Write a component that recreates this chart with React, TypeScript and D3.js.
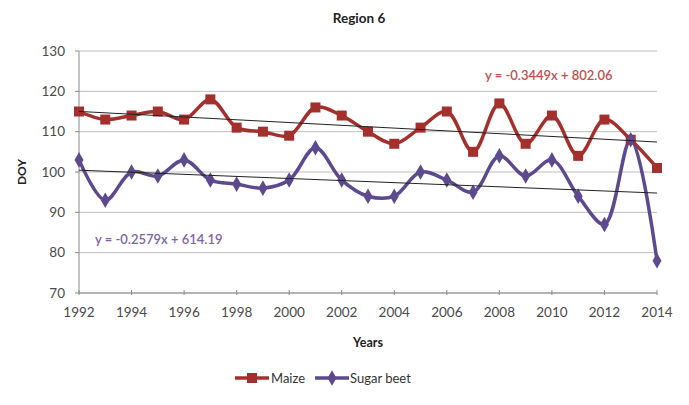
import * as d3 from "d3";

const years = d3.range(1992, 2015);
const maize = [115, 113, 114, 115, 113, 118, 111, 110, 109, 116, 114, 110, 107, 111, 115, 105, 117, 107, 114, 104, 113, 108, 101];
const sugarBeet = [103, 93, 100, 99, 103, 98, 97, 96, 98, 106, 98, 94, 94, 100, 98, 95, 104, 99, 103, 94, 87, 108, 78];
const maizeTrend = [-0.3449, 802.06];
const beetTrend = [-0.2579, 614.19];
const yTicks = [70, 80, 90, 100, 110, 120, 130];
const xTicks = d3.range(1992, 2015, 2);

const W = 689;
const H = 405;
const mLeft = 79;
const mRight = 657;
const mTop = 51;
const mBottom = 293;

const font = "Lato, 'Open Sans', sans-serif";
const maizeColor = "#a3302d";
const beetColor = "#5d4a8e";

export default function App() {
  const x = d3.scaleLinear([1992, 2014], [mLeft, mRight]);
  const y = d3.scaleLinear([70, 130], [mBottom, mTop]);

  const line = d3
    .line<number>()
    .x((_, i) => x(years[i]))
    .y((d) => y(d))
    .curve(d3.curveCatmullRom.alpha(0.5));

  const trend = (c: number[]) =>
    `M${x(1992)},${y(c[0] * 1992 + c[1])}L${x(2014)},${y(c[0] * 2014 + c[1])}`;

  const diamond = d3.symbol(d3.symbolDiamond, 70)() || "";

  return (
    <svg
      width={W}
      height={H}
      style={{ position: "absolute", left: 0, top: 0, background: "#fff" }}
      fontFamily={font}
    >
      <text x={359} y={23} textAnchor="middle" fontSize={13.5} fontWeight="bold" fill="#222">
        Region 6
      </text>

      {/* gridlines */}
      <g stroke="#bdbdbd" strokeWidth={1}>
        {yTicks.map((t) => (
          <line key={t} x1={mLeft} x2={mRight} y1={y(t)} y2={y(t)} />
        ))}
      </g>

      {/* y axis */}
      <line x1={mLeft} x2={mLeft} y1={mTop} y2={mBottom} stroke="#8a8a8a" />
      <g fontSize={13.5} fill="#4a4a4a" textAnchor="end">
        {yTicks.map((t) => (
          <g key={t}>
            <line x1={mLeft - 4} x2={mLeft} y1={y(t)} y2={y(t)} stroke="#8a8a8a" />
            <text x={mLeft - 14} y={y(t) + 4.5}>
              {t}
            </text>
          </g>
        ))}
      </g>
      <text
        transform={`translate(26,${(mTop + mBottom) / 2}) rotate(-90)`}
        textAnchor="middle"
        fontSize={12}
        fontWeight="bold"
        fill="#222"
      >
        DOY
      </text>

      {/* x axis */}
      <line x1={mLeft} x2={mRight} y1={mBottom} y2={mBottom} stroke="#8a8a8a" />
      <g fontSize={13.5} fill="#4a4a4a" textAnchor="middle">
        {xTicks.map((t) => (
          <g key={t}>
            <line x1={x(t)} x2={x(t)} y1={mBottom - 3} y2={mBottom + 2} stroke="#8a8a8a" />
            <text x={x(t)} y={mBottom + 24}>
              {t}
            </text>
          </g>
        ))}
      </g>
      <text x={(mLeft + mRight) / 2} y={347} textAnchor="middle" fontSize={12.5} fontWeight="bold" fill="#222">
        Years
      </text>

      {/* series */}
      <path d={line(maize) || ""} fill="none" stroke={maizeColor} strokeWidth={3.5} />
      <path d={line(sugarBeet) || ""} fill="none" stroke={beetColor} strokeWidth={3.5} />
      <g fill={maizeColor}>
        {maize.map((d, i) => (
          <rect key={i} x={x(years[i]) - 5} y={y(d) - 5} width={10} height={10} />
        ))}
      </g>
      <g fill={beetColor}>
        {sugarBeet.map((d, i) => (
          <path key={i} d={diamond} transform={`translate(${x(years[i])},${y(d)})`} />
        ))}
      </g>

      {/* trend lines */}
      <path d={trend(maizeTrend)} stroke="#222" strokeWidth={1} fill="none" />
      <path d={trend(beetTrend)} stroke="#222" strokeWidth={1} fill="none" />
      <text x={485} y={80} fontSize={13} fontWeight="600" fill="#c0504d">
        y = -0.3449x + 802.06
      </text>
      <text x={95} y={244} fontSize={13} fontWeight="600" fill="#8064a2">
        y = -0.2579x + 614.19
      </text>

      {/* legend */}
      <g>
        <line x1={235} x2={269} y1={378} y2={378} stroke={maizeColor} strokeWidth={3.5} />
        <rect x={247} y={373} width={10} height={10} fill={maizeColor} />
        <text x={271} y={382.5} fontSize={13} fill="#333">
          Maize
        </text>
        <line x1={315} x2={349} y1={378} y2={378} stroke={beetColor} strokeWidth={3.5} />
        <path d={diamond} transform="translate(332,378)" fill={beetColor} />
        <text x={350} y={382.5} fontSize={13} fill="#333">
          Sugar beet
        </text>
      </g>
    </svg>
  );
}
